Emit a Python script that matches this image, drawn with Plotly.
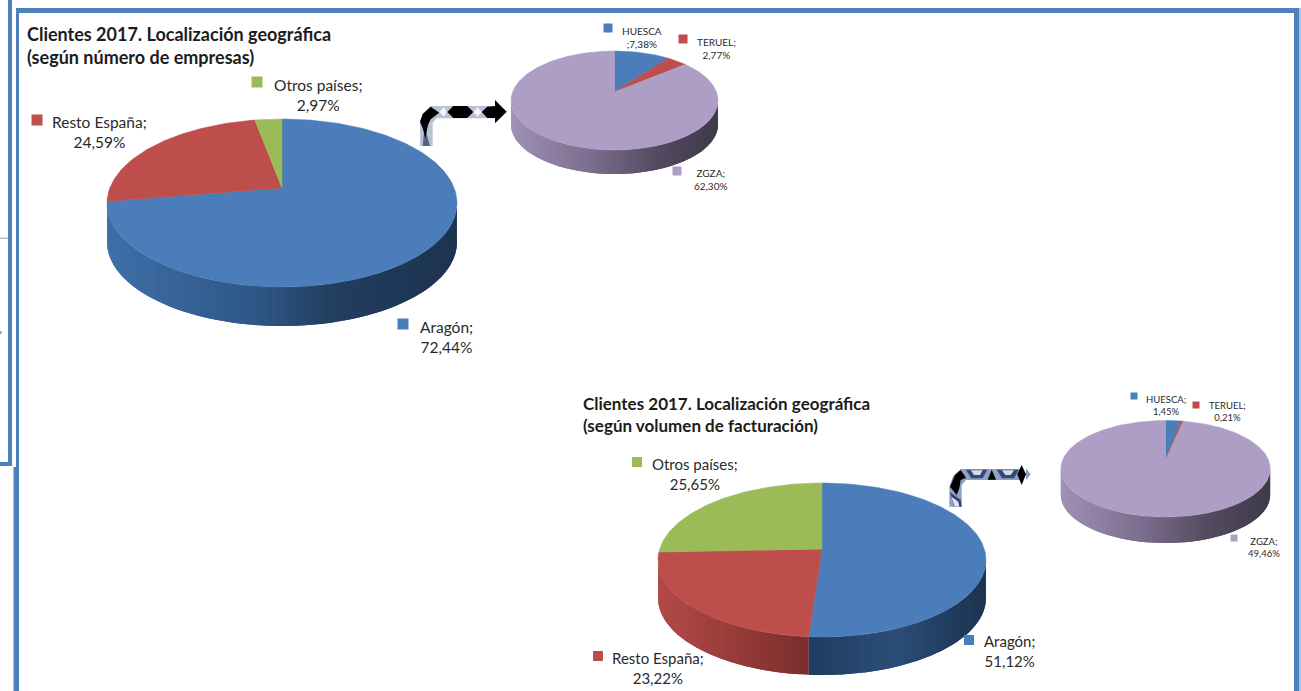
import math
import plotly.graph_objects as go

# ---------- data ----------
categories_main = ["Aragón", "Resto España", "Otros países"]
empresas_main = [72.44, 24.59, 2.97]
facturacion_main = [51.12, 23.22, 25.65]
categories_sub = ["HUESCA", "TERUEL", "ZGZA"]
empresas_sub = [7.38, 2.77, 62.30]
facturacion_sub = [1.45, 0.21, 49.46]
title_empresas = "Clientes 2017. Localización geográfica<br>(según número de empresas)"
title_facturacion = "Clientes 2017. Localización geográfica<br>(según volumen de facturación)"

# ---------- style ----------
BLUE, RED, GREEN, PURPLE = "#4a7dba", "#bd4e4b", "#9bbb59", "#ae9ec5"
FRAME = "#4f81bd"
TEXT = "#2a2a2a"
FONT = "Lato"

GRAD_BLUE = [(0, (62, 111, 168)), (.45, (45, 85, 132)), (.62, (35, 63, 99)), (.78, (32, 57, 90)), (1, (28, 52, 80))]
GRAD_BLUE2 = [(.45, (31, 59, 94)), (.72, (42, 77, 120)), (.88, (34, 62, 96)), (1, (28, 52, 80))]
GRAD_RED2 = [(0, (178, 74, 71)), (.25, (150, 58, 56)), (.46, (120, 45, 44))]
GRAD_PURPLE = [(0, (160, 145, 182)), (.4, (122, 108, 140)), (.7, (84, 75, 96)), (1, (62, 58, 74))]
GRAD_NONE = [(0, (120, 120, 120)), (1, (120, 120, 120))]

pies = [
    dict(values=empresas_main, colors=[BLUE, RED, GREEN], grads=[GRAD_BLUE, GRAD_NONE, GRAD_NONE],
         cx=282, cy=188, rx=175, up=69, down=99, depth=39),
    dict(values=empresas_sub, colors=[BLUE, RED, PURPLE], grads=[GRAD_NONE, GRAD_NONE, GRAD_PURPLE],
         cx=614.5, cy=92, rx=103.5, up=41, down=58, depth=24),
    dict(values=facturacion_main, colors=[BLUE, RED, GREEN], grads=[GRAD_BLUE2, GRAD_RED2, GRAD_NONE],
         cx=822, cy=549, rx=164, up=66, down=88, depth=38),
    dict(values=facturacion_sub, colors=[BLUE, RED, PURPLE], grads=[GRAD_NONE, GRAD_NONE, GRAD_PURPLE],
         cx=1165.5, cy=460, rx=104.7, up=39.5, down=57, depth=26),
]


def projector(p):
    a = 2 * p["up"] * p["down"] / (p["up"] + p["down"])
    k = a / p["up"] - 1
    rx = p["rx"] * math.sqrt(1 - k * k)

    def pt(deg):
        t = math.radians(deg)
        u, v = math.sin(t), math.cos(t)
        w = 1 + k * v
        return p["cx"] + rx * u / w, p["cy"] - a * v / w

    return pt, k


def grad_color(grad, t):
    if t <= grad[0][0]:
        c = grad[0][1]
    elif t >= grad[-1][0]:
        c = grad[-1][1]
    else:
        for (t0, c0), (t1, c1) in zip(grad, grad[1:]):
            if t0 <= t <= t1:
                f = (t - t0) / (t1 - t0)
                c = tuple(c0[i] + (c1[i] - c0[i]) * f for i in range(3))
                break
    return "rgb(%d,%d,%d)" % tuple(round(x) for x in c)


fig = go.Figure()

for p in pies:
    pt, k = projector(p)
    total = sum(p["values"])
    front0 = math.degrees(math.acos(-k))
    front1 = 360 - front0
    # side strips: each strip overlaps the next, which paints over it, so no seams show
    start = 0.0
    for val, grad in zip(p["values"], p["grads"]):
        end = start + val / total * 360
        a0, a1 = max(start, front0), min(end, front1)
        if a1 > a0:
            n = max(2, int((a1 - a0) / 2.5))
            for i in range(n):
                b0 = a0 + (a1 - a0) * i / n
                bm = a0 + (a1 - a0) * (i + 1) / n
                b1 = a0 + (a1 - a0) * min(i + 2, n) / n
                rim = [pt(b0), pt(bm), pt(b1)]
                t = ((rim[0][0] + rim[1][0]) / 2 - (p["cx"] - p["rx"])) / (2 * p["rx"])
                col = grad_color(grad, t)
                xs = [q[0] for q in rim] + [q[0] for q in rim[::-1]] + [rim[0][0]]
                ys = [q[1] for q in rim] + [q[1] + p["depth"] for q in rim[::-1]] + [rim[0][1]]
                fig.add_trace(go.Scatter(x=xs, y=ys, mode="none", fill="toself", fillcolor=col,
                                         hoverinfo="skip", showlegend=False))
        start = end
    # top surface
    start = 0.0
    for val, col, in zip(p["values"], p["colors"]):
        end = start + val / total * 360
        n = max(2, int((end - start) / 1.5))
        pts = [pt(start + (end - start) * i / n) for i in range(n + 1)]
        xs = [p["cx"]] + [q[0] for q in pts] + [p["cx"]]
        ys = [p["cy"]] + [q[1] for q in pts] + [p["cy"]]
        fig.add_trace(go.Scatter(x=xs, y=ys, mode="lines", fill="toself", fillcolor=col,
                                 line=dict(color=col, width=0.5), hoverinfo="skip", showlegend=False))
        start = end


def fmt(v):
    return ("%.2f" % v).replace(".", ",") + "%"


# label centre x, centre y, key x, key y
main_layout = [
    (categories_main, empresas_main, [(446, 337, 403, 324), (99, 132, 37, 120), (318, 95, 257, 82)], 15.5, 11),
    (categories_main, facturacion_main, [(1009, 651, 969, 640), (658, 668, 598, 656), (695, 474, 637, 462)], 15, 10),
]
sub_layout = [
    (categories_sub, empresas_sub, [(642, 37, 608, 28), (716, 48, 683, 39), (711, 179, 677, 171)], 10, 9),
    (categories_sub, facturacion_sub, [(1166, 405, 1134, 396), (1227, 411, 1196, 405), (1264, 547, 1234, 538)], 9.5, 7),
]
annotations = []
for cats, vals, spots, fs, key in main_layout + sub_layout:
    for c, v, (lx, ly, kx, ky) in zip(cats, vals, spots):
        sep = "<br>;" if c == "HUESCA" and v > 5 else ";<br>"
        annotations.append(dict(x=lx, y=ly, xref="x", yref="y", text=c + sep + fmt(v), showarrow=False,
                                align="center", xanchor="center", yanchor="middle",
                                font=dict(family=FONT, size=fs, color=TEXT)))
    colors = [BLUE, RED, GREEN] if cats is categories_main else [BLUE, RED, PURPLE]
    fig.add_trace(go.Scatter(x=[s[2] for s in spots], y=[s[3] for s in spots], mode="markers",
                             marker=dict(symbol="square", size=key, color=colors, line=dict(width=0)),
                             hoverinfo="skip", showlegend=False))

for txt, x, y, fs in [(title_empresas, 24.5, 45.5, 18.0), (title_facturacion, 580.5, 414.5, 17.0)]:
    annotations.append(dict(x=x, y=y, xref="x", yref="y", text="<b>" + txt + "</b>", showarrow=False,
                            align="left", xanchor="left", yanchor="middle",
                            font=dict(family=FONT, size=fs, color="#1c1c1c")))


def rect(x0, y0, x1, y1, color=FRAME):
    return dict(type="rect", xref="x", yref="y", x0=x0, y0=y0, x1=x1, y1=y1,
                fillcolor=color, line=dict(width=0), layer="below")


def poly(points, color, ox, oy, scale=1 / 3):
    path = "M " + " L ".join("%.1f,%.1f" % (ox + a * scale, oy + b * scale) for a, b in points) + " Z"
    return dict(type="path", xref="x", yref="y", path=path, fillcolor=color, line=dict(width=0))


shapes = [
    # frames
    rect(16, 8, 1299, 13),
    rect(16, 8, 19, 467),
    rect(13.5, 467, 19, 691),
    rect(1294, 8, 1299, 691),
    rect(1299, 8, 1301, 691, "#a9c6ea"),
    rect(8, 0, 12, 466),
    rect(0, 462, 12, 466),
    rect(0, 237.5, 8, 238.8, "#b5b5b5"),
    rect(0, 331, 1.5, 334, "#9a9a9a"),
]
# arrow 1 (coordinates in 3x crop units)
ox, oy = 410, 90
shapes += [
    poly([(30, 168), (30, 95), (38, 72), (62, 48), (255, 48), (255, 85), (80, 85), (68, 98), (68, 168)], "#b9c3d8", ox, oy),
    poly([(38, 168), (42, 125), (48, 125), (60, 168)], "#56657f", ox, oy),
    poly([(88, 66), (102, 52), (110, 66), (102, 80)], "#f2f4f8", ox, oy),
    poly([(190, 66), (203, 52), (215, 66), (203, 80)], "#f2f4f8", ox, oy),
    poly([(30, 95), (38, 72), (62, 50), (88, 68), (62, 88), (54, 105), (46, 145), (38, 115)], "#000000", ox, oy),
    poly([(112, 66), (130, 48), (172, 48), (190, 66), (172, 84), (130, 84)], "#000000", ox, oy),
    poly([(215, 66), (232, 50), (255, 48), (255, 30), (290, 65), (255, 100), (255, 84), (232, 84)], "#000000", ox, oy),
]
# arrow 2
ox, oy = 940, 455
shapes += [
    poly([(28, 155), (28, 95), (40, 62), (62, 42), (240, 42), (240, 75), (78, 75), (65, 90), (65, 155)], "#8fa2c4", ox, oy),
    poly([(30, 112), (62, 135), (65, 155), (42, 155)], "#2f4270", ox, oy),
    poly([(34, 125), (55, 140), (58, 155), (44, 155)], "#dfe5ef", ox, oy),
    poly([(78, 44), (142, 44), (128, 70), (94, 70)], "#34497a", ox, oy),
    poly([(170, 44), (236, 44), (222, 70), (186, 70)], "#34497a", ox, oy),
    poly([(92, 46), (128, 46), (120, 60), (102, 60)], "#d5dcea", ox, oy),
    poly([(186, 46), (222, 46), (212, 60), (196, 60)], "#d5dcea", ox, oy),
    poly([(30, 95), (45, 60), (62, 45), (78, 68), (62, 75), (58, 100), (50, 120)], "#000000", ox, oy),
    poly([(143, 74), (155, 44), (168, 74)], "#000000", ox, oy),
    poly([(232, 58), (245, 30), (258, 58), (245, 90)], "#000000", ox, oy),
    poly([(258, 40), (272, 58), (258, 76)], "#8c9dbf", ox, oy),
]

fig.update_layout(
    width=1301, height=691, margin=dict(l=0, r=0, t=0, b=0),
    paper_bgcolor="white", plot_bgcolor="white", showlegend=False,
    xaxis=dict(range=[0, 1301], visible=False, fixedrange=True),
    yaxis=dict(range=[691, 0], visible=False, fixedrange=True),
    annotations=annotations, shapes=shapes,
)

fig.write_html("out.html", config=dict(displayModeBar=False),
               post_script="document.body.style.margin='0';document.body.style.overflow='hidden';")
